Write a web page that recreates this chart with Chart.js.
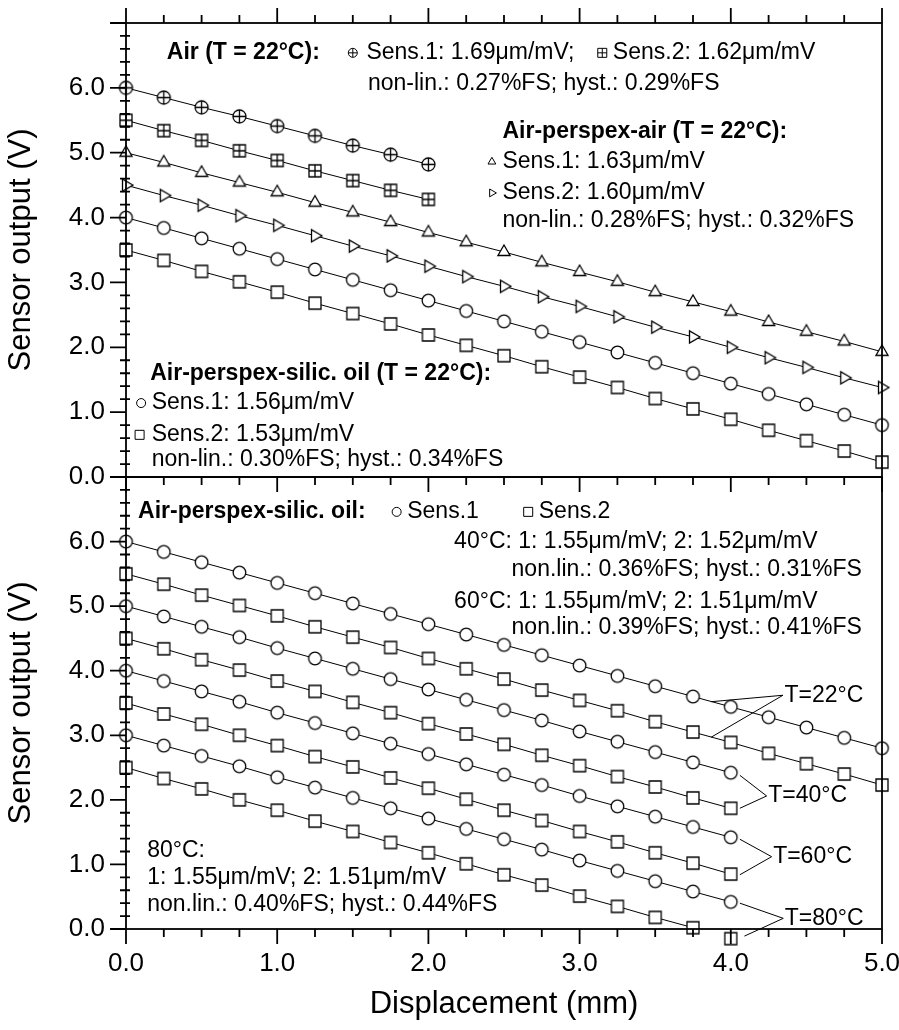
<!DOCTYPE html>
<html lang="en">
<head>
  <meta charset="UTF-8">
  <title>Sensor output vs displacement</title>
  <script src="https://cdn.jsdelivr.net/npm/chart.js"></script>
  <style>
    body { margin: 0; background: #fff; }
    .wrap { position: relative; width: 899px; height: 1030px; }
    .wrap canvas { position: absolute; left: 0; top: 0; }
  </style>
</head>
<body>

  <div class="wrap">
    <canvas id="topChart" width="899" height="1030"></canvas>
    <canvas id="bottomChart" width="899" height="1030"></canvas>
  </div>

  <script>
    // Displacement steps (mm)
    const xAir  = [0, 0.25, 0.5, 0.75, 1.0, 1.25, 1.5, 1.75, 2.0];
    const xTo4  = [0, 0.25, 0.5, 0.75, 1.0, 1.25, 1.5, 1.75, 2.0, 2.25, 2.5, 2.75, 3.0, 3.25, 3.5, 3.75, 4.0];
    const xFull = [0, 0.25, 0.5, 0.75, 1.0, 1.25, 1.5, 1.75, 2.0, 2.25, 2.5, 2.75, 3.0, 3.25, 3.5, 3.75, 4.0, 4.25, 4.5, 4.75, 5.0];

    // Upper panel, all at 22°C (V)
    const airS1 = [6.00, 5.85, 5.70, 5.56, 5.41, 5.26, 5.11, 4.97, 4.82];
    const airS2 = [5.50, 5.34, 5.19, 5.03, 4.88, 4.72, 4.57, 4.42, 4.28];
    const perspexAirS1 = [5.00, 4.85, 4.69, 4.54, 4.39, 4.23, 4.08, 3.93, 3.77, 3.62, 3.47, 3.31, 3.16, 3.01, 2.85, 2.70, 2.55, 2.39, 2.24, 2.09, 1.93];
    const perspexAirS2 = [4.50, 4.34, 4.19, 4.03, 3.88, 3.72, 3.56, 3.41, 3.25, 3.09, 2.94, 2.78, 2.63, 2.47, 2.31, 2.16, 2.00, 1.84, 1.69, 1.53, 1.38];
    const oilS1 = [4.00, 3.84, 3.68, 3.52, 3.36, 3.20, 3.04, 2.88, 2.72, 2.56, 2.40, 2.24, 2.08, 1.92, 1.76, 1.60, 1.44, 1.28, 1.12, 0.96, 0.80];
    const oilS2 = [3.50, 3.34, 3.17, 3.01, 2.85, 2.68, 2.52, 2.36, 2.19, 2.03, 1.87, 1.70, 1.54, 1.38, 1.21, 1.05, 0.89, 0.72, 0.56, 0.40, 0.23];

    // Lower panel, air-perspex-silicone oil at four temperatures (V)
    const t22S1 = [6.00, 5.84, 5.68, 5.52, 5.36, 5.20, 5.04, 4.88, 4.72, 4.56, 4.40, 4.24, 4.08, 3.92, 3.76, 3.60, 3.44, 3.28, 3.12, 2.96, 2.80];
    const t22S2 = [5.50, 5.34, 5.17, 5.01, 4.85, 4.68, 4.52, 4.36, 4.19, 4.03, 3.87, 3.70, 3.54, 3.38, 3.21, 3.05, 2.89, 2.72, 2.56, 2.40, 2.23];
    const t40S1 = [5.00, 4.84, 4.68, 4.52, 4.35, 4.19, 4.03, 3.87, 3.71, 3.55, 3.39, 3.23, 3.06, 2.90, 2.74, 2.58, 2.42];
    const t40S2 = [4.50, 4.34, 4.17, 4.01, 3.84, 3.68, 3.51, 3.35, 3.18, 3.02, 2.86, 2.69, 2.53, 2.36, 2.20, 2.03, 1.87];
    const t60S1 = [4.00, 3.84, 3.68, 3.52, 3.35, 3.19, 3.03, 2.87, 2.71, 2.55, 2.39, 2.23, 2.06, 1.90, 1.74, 1.58, 1.42];
    const t60S2 = [3.50, 3.33, 3.17, 3.00, 2.84, 2.67, 2.51, 2.34, 2.18, 2.01, 1.84, 1.68, 1.51, 1.35, 1.18, 1.02, 0.85];
    const t80S1 = [3.00, 2.84, 2.68, 2.52, 2.35, 2.19, 2.03, 1.87, 1.71, 1.55, 1.39, 1.23, 1.06, 0.90, 0.74, 0.58, 0.42];
    const t80S2 = [2.50, 2.33, 2.17, 2.00, 1.84, 1.67, 1.51, 1.34, 1.18, 1.01, 0.84, 0.68, 0.51, 0.35, 0.18, 0.02, -0.15];

    const FONT = "'Liberation Sans', Arial, sans-serif";
    const TXT = 23;

    // Hollow marker shapes, shared by the data points and the inline keys
    function drawMark(ctx, kind, px, py, r) {
      ctx.beginPath();
      if (kind === 'circle' || kind === 'circlePlus') {
        ctx.arc(px, py, r, 0, 2 * Math.PI);
      } else if (kind === 'rect' || kind === 'rectPlus') {
        ctx.rect(px - r, py - r, 2 * r, 2 * r);
      } else if (kind === 'triangle') {
        ctx.moveTo(px, py - r);
        ctx.lineTo(px + r * 0.866, py + r * 0.5);
        ctx.lineTo(px - r * 0.866, py + r * 0.5);
        ctx.closePath();
      } else if (kind === 'triangleRight') {
        ctx.moveTo(px + r, py);
        ctx.lineTo(px - r * 0.5, py - r * 0.866);
        ctx.lineTo(px - r * 0.5, py + r * 0.866);
        ctx.closePath();
      }
      ctx.fill();
      ctx.stroke();
      if (kind.endsWith('Plus')) {
        ctx.beginPath();
        ctx.moveTo(px - r, py); ctx.lineTo(px + r, py);
        ctx.moveTo(px, py - r); ctx.lineTo(px, py + r);
        ctx.stroke();
      }
    }

    function markImage(kind, r) {
      const c = document.createElement('canvas');
      const s = Math.ceil(2 * r + 4);
      c.width = c.height = s;
      const g = c.getContext('2d');
      g.fillStyle = '#fff';
      g.strokeStyle = '#000';
      g.lineWidth = 1.3;
      drawMark(g, kind, s / 2, s / 2, r);
      return c;
    }

    function series(xs, ys, kind, r) {
      return {
        data: xs.map((x, i) => ({ x: x, y: ys[i] })),
        borderColor: '#000',
        borderWidth: 1,
        tension: 0,
        pointStyle: markImage(kind, r),
        // radius only widens the area test, the image sets the drawn size
        pointRadius: 12,
        clip: false,
        // a point pushed below 0 V keeps its marker but not its line
        segment: {
          borderColor: c => (c.p1.parsed.y < 0 ? 'rgba(0,0,0,0)' : '#000')
        }
      };
    }

    // Box frame plus major/minor ticks (x every 0.25, y every 0.2)
    function framePlugin(withTopTicks) {
      return {
        id: 'frame',
        afterDraw(chart) {
          const { ctx, chartArea: a, scales: { x, y } } = chart;
          ctx.save();
          ctx.strokeStyle = '#000';
          ctx.lineWidth = 1.8;
          ctx.strokeRect(a.left, a.top, a.right - a.left, a.bottom - a.top);
          ctx.beginPath();
          for (let i = 0; i <= 20; i++) {
            const px = x.getPixelForValue(i * 0.25);
            const len = i % 4 === 0 ? 15 : 8;
            ctx.moveTo(px, a.bottom); ctx.lineTo(px, a.bottom + len);
            if (withTopTicks) { ctx.moveTo(px, a.top); ctx.lineTo(px, a.top - len); }
          }
          for (let i = 0; i <= 35; i++) {
            const py = y.getPixelForValue(i * 0.2);
            if (i % 5 === 0) { ctx.moveTo(a.left - 16, py); ctx.lineTo(a.left, py); }
            else { ctx.moveTo(a.left - 6, py); ctx.lineTo(a.left + 4, py); }
          }
          ctx.stroke();
          ctx.restore();
        }
      };
    }

    // Text blocks, inline keys and leader lines placed in data units
    function notesPlugin(items, leaders) {
      return {
        id: 'notes',
        afterDraw(chart) {
          const { ctx, scales: { x, y } } = chart;
          ctx.save();
          ctx.strokeStyle = '#000';
          ctx.fillStyle = '#000';
          ctx.lineWidth = 1;
          leaders.forEach(([v, p, q]) => {
            ctx.beginPath();
            ctx.moveTo(x.getPixelForValue(p[0]), y.getPixelForValue(p[1]));
            ctx.lineTo(x.getPixelForValue(v[0]), y.getPixelForValue(v[1]));
            ctx.lineTo(x.getPixelForValue(q[0]), y.getPixelForValue(q[1]));
            ctx.stroke();
          });
          ctx.textBaseline = 'middle';
          ctx.textAlign = 'left';
          items.forEach(it => {
            const px = x.getPixelForValue(it.x);
            const py = y.getPixelForValue(it.y);
            if (it.mark) {
              ctx.fillStyle = '#fff';
              drawMark(ctx, it.mark, px, py, 4.5);
              ctx.fillStyle = '#000';
            } else {
              ctx.font = (it.bold ? 'bold ' : '') + TXT + 'px ' + FONT;
              ctx.fillText(it.text, px, py);
            }
          });
          ctx.restore();
        }
      };
    }

    const topNotes = [
      { x: 0.27, y: 6.54, text: 'Air (T = 22°C):', bold: true },
      { x: 1.50, y: 6.54, mark: 'circlePlus' },
      { x: 1.59, y: 6.54, text: 'Sens.1: 1.69μm/mV;' },
      { x: 3.15, y: 6.54, mark: 'rectPlus' },
      { x: 3.22, y: 6.54, text: 'Sens.2: 1.62μm/mV' },
      { x: 1.60, y: 6.06, text: 'non-lin.: 0.27%FS; hyst.: 0.29%FS' },
      { x: 2.49, y: 5.32, text: 'Air-perspex-air (T = 22°C):', bold: true },
      { x: 2.42, y: 4.86, mark: 'triangle' },
      { x: 2.49, y: 4.86, text: 'Sens.1: 1.63μm/mV' },
      { x: 2.42, y: 4.38, mark: 'triangleRight' },
      { x: 2.49, y: 4.38, text: 'Sens.2: 1.60μm/mV' },
      { x: 2.49, y: 3.96, text: 'non-lin.: 0.28%FS; hyst.: 0.32%FS' },
      { x: 0.16, y: 1.60, text: 'Air-perspex-silic. oil (T = 22°C):', bold: true },
      { x: 0.10, y: 1.14, mark: 'circle' },
      { x: 0.17, y: 1.14, text: 'Sens.1: 1.56μm/mV' },
      { x: 0.09, y: 0.65, mark: 'rect' },
      { x: 0.17, y: 0.65, text: 'Sens.2: 1.53μm/mV' },
      { x: 0.17, y: 0.26, text: 'non-lin.: 0.30%FS; hyst.: 0.34%FS' }
    ];

    const bottomNotes = [
      { x: 0.08, y: 6.46, text: 'Air-perspex-silic. oil:', bold: true },
      { x: 1.79, y: 6.46, mark: 'circle' },
      { x: 1.86, y: 6.46, text: 'Sens.1' },
      { x: 2.66, y: 6.46, mark: 'rect' },
      { x: 2.73, y: 6.46, text: 'Sens.2' },
      { x: 2.17, y: 6.00, text: '40°C: 1: 1.55μm/mV; 2: 1.52μm/mV' },
      { x: 2.55, y: 5.56, text: 'non.lin.: 0.36%FS; hyst.: 0.31%FS' },
      { x: 2.17, y: 5.07, text: '60°C: 1: 1.55μm/mV; 2: 1.51μm/mV' },
      { x: 2.55, y: 4.66, text: 'non.lin.: 0.39%FS; hyst.: 0.41%FS' },
      { x: 0.14, y: 1.21, text: '80°C:' },
      { x: 0.14, y: 0.79, text: '1: 1.55μm/mV; 2: 1.51μm/mV' },
      { x: 0.14, y: 0.37, text: 'non.lin.: 0.40%FS; hyst.: 0.44%FS' },
      { x: 4.355, y: 3.62, text: 'T=22°C' },
      { x: 4.247, y: 2.06, text: 'T=40°C' },
      { x: 4.28, y: 1.12, text: 'T=60°C' },
      { x: 4.357, y: 0.165, text: 'T=80°C' }
    ];

    // [vertex, end on Sens.1 line, end on Sens.2 line]
    const bottomLeaders = [
      [[4.345, 3.62], [3.87, 3.52], [3.87, 2.97]],
      [[4.237, 2.06], [4.06, 2.38], [4.06, 1.87]],
      [[4.27, 1.12], [4.06, 1.39], [4.06, 0.84]],
      [[4.347, 0.165], [4.06, 0.40], [4.09, -0.11]]
    ];

    function panelOptions(isBottom) {
      return {
        responsive: false,
        animation: false,
        events: [],
        layout: { padding: isBottom ? { top: 477, right: 17, bottom: 0, left: 0 }
                                    : { top: 23, right: 17, bottom: 553, left: 0 } },
        plugins: { legend: { display: false }, tooltip: { enabled: false } },
        scales: {
          x: {
            type: 'linear',
            min: 0,
            max: 5,
            display: isBottom,
            afterFit: s => {
              s.height = isBottom ? 101 : 0;
              s.paddingLeft = 0;
              s.paddingRight = 0;
            },
            border: { display: false },
            grid: { drawOnChartArea: false, tickLength: 16, color: 'rgba(0,0,0,0)' },
            ticks: {
              stepSize: 1,
              padding: 3,
              color: '#000',
              font: { family: FONT, size: 26 },
              callback: v => v.toFixed(1)
            },
            title: {
              display: true,
              text: 'Displacement (mm)',
              color: '#000',
              font: { family: FONT, size: 31 },
              padding: { top: 0, bottom: 7 }
            }
          },
          y: {
            min: 0,
            max: 7,
            afterFit: s => { s.width = 126; },
            border: { display: false },
            grid: { drawOnChartArea: false, tickLength: 16, color: 'rgba(0,0,0,0)' },
            ticks: {
              stepSize: 1,
              padding: 5,
              color: '#000',
              font: { family: FONT, size: 26 },
              callback: v => (v < 7 ? v.toFixed(1) : '')
            },
            title: {
              display: true,
              text: 'Sensor output (V)',
              color: '#000',
              font: { family: FONT, size: 31 },
              padding: { top: 3, bottom: 0 }
            }
          }
        }
      };
    }

    new Chart(document.getElementById('topChart'), {
      type: 'line',
      data: {
        datasets: [
          series(xAir, airS1, 'circlePlus', 6.5),
          series(xAir, airS2, 'rectPlus', 6),
          series(xFull, perspexAirS1, 'triangle', 7),
          series(xFull, perspexAirS2, 'triangleRight', 7),
          series(xFull, oilS1, 'circle', 6.3),
          series(xFull, oilS2, 'rect', 6)
        ]
      },
      options: panelOptions(false),
      plugins: [framePlugin(true), notesPlugin(topNotes, [])]
    });

    new Chart(document.getElementById('bottomChart'), {
      type: 'line',
      data: {
        datasets: [
          series(xFull, t22S1, 'circle', 6.3),
          series(xFull, t22S2, 'rect', 6),
          series(xTo4, t40S1, 'circle', 6.3),
          series(xTo4, t40S2, 'rect', 6),
          series(xTo4, t60S1, 'circle', 6.3),
          series(xTo4, t60S2, 'rect', 6),
          series(xTo4, t80S1, 'circle', 6.3),
          series(xTo4, t80S2, 'rect', 6)
        ]
      },
      options: panelOptions(true),
      plugins: [framePlugin(false), notesPlugin(bottomNotes, bottomLeaders)]
    });
  </script>

</body>
</html>
